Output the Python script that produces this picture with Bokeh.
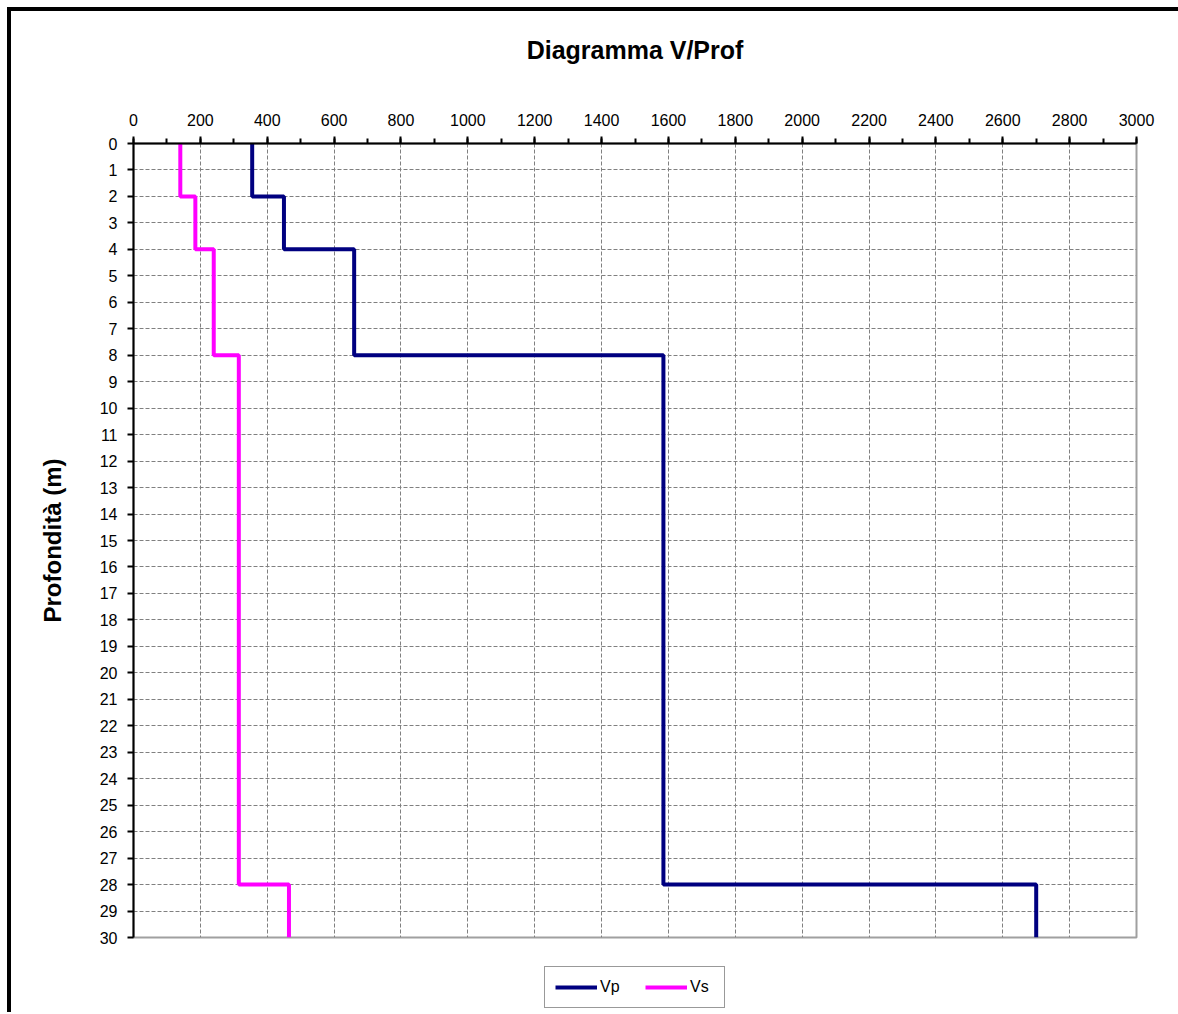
from bokeh.plotting import figure
from bokeh.layouts import column
from bokeh.models import Range1d, SingleIntervalTicker, Legend, LegendItem
from bokeh.embed import file_html
from bokeh.resources import INLINE

# Layer data (depth in m, velocities in m/s)
depth_top = [0, 2, 4, 8, 28]
depth_bottom = [2, 4, 8, 28, 30]
vp = [355, 450, 660, 1585, 2700]
vs = [140, 185, 240, 315, 465]

series_names = ["Vp", "Vs"]
series_colors = ["#000080", "#FF00FF"]
x_ticks_interval = 200
title_text = "Diagramma V/Prof"
y_label = "Profondità (m)"


def step_path(values):
    xs, ys = [], []
    for v, t, b in zip(values, depth_top, depth_bottom):
        xs += [v, v]
        ys += [t, b]
    return xs, ys


FONT = "Liberation Sans"
W = 1167

p = figure(
    frame_width=1003, frame_height=794,
    min_border_left=122, min_border_right=W - 122 - 1003,
    min_border_top=132, min_border_bottom=12,
    x_range=Range1d(0, 3000), y_range=Range1d(30, 0),
    x_axis_location="above",
    output_backend="svg", toolbar_location=None,
)

xa = p.xaxis[0]
xa.ticker = SingleIntervalTicker(interval=x_ticks_interval, num_minor_ticks=2)
ya = p.yaxis[0]
ya.ticker = SingleIntervalTicker(interval=1, num_minor_ticks=0)

for ax in (xa, ya):
    ax.axis_line_color = "black"
    ax.axis_line_width = 2
    ax.major_tick_line_color = "black"
    ax.major_tick_line_width = 2
    ax.major_tick_in = 0
    ax.major_tick_out = 7
    ax.minor_tick_line_color = "black"
    ax.minor_tick_line_width = 2
    ax.minor_tick_in = 0
    ax.minor_tick_out = 5
    ax.major_label_text_font = FONT
    ax.major_label_text_font_size = "16px"
    ax.major_label_text_color = "black"
    ax.major_label_standoff = 11

# chart title drawn as the (top) x axis label, centred over the plot area
xa.axis_label = title_text
xa.axis_label_text_font = FONT
xa.axis_label_text_font_size = "25px"
xa.axis_label_text_font_style = "bold"
xa.axis_label_text_color = "black"
xa.axis_label_standoff = 47

ya.major_tick_out = 6
ya.major_label_standoff = 10
ya.axis_label = y_label
ya.axis_label_text_font = FONT
ya.axis_label_text_font_size = "24px"
ya.axis_label_text_font_style = "bold"
ya.axis_label_text_color = "black"
ya.axis_label_standoff = 31

for g in (p.xgrid[0], p.ygrid[0]):
    g.grid_line_color = "#808080"
    g.grid_line_dash = "4 2"
    g.grid_line_width = 1

p.outline_line_color = "#a0a0a0"
p.outline_line_width = 2
p.background_fill_color = "white"
p.border_fill_color = "white"

vx, vy = step_path(vp)
sx, sy = step_path(vs)
p.line(vx, vy, line_color=series_colors[0], line_width=4)
p.line(sx, sy, line_color=series_colors[1], line_width=4)

# legend strip under the chart (its lines lie outside its tiny 0..1 view)
leg = figure(
    width=W, height=63, min_border=0,
    x_range=Range1d(0, 1), y_range=Range1d(0, 1),
    x_axis_type=None, y_axis_type=None,
    output_backend="svg", toolbar_location=None,
)
leg.outline_line_color = None
leg.background_fill_color = "white"
leg.border_fill_color = "white"
leg_renderers = [
    leg.line(vx, vy, line_color=series_colors[0], line_width=4),
    leg.line(sx, sy, line_color=series_colors[1], line_width=4),
]

legend = Legend(
    items=[LegendItem(label=n, renderers=[r]) for n, r in zip(series_names, leg_renderers)],
    orientation="horizontal",
    location=(411, 4),
    border_line_color="#333333",
    border_line_width=1,
    background_fill_color="white",
    background_fill_alpha=1,
    glyph_width=42, glyph_height=20,
    label_standoff=3, label_width=24,
    spacing=21, padding=10, margin=0,
    label_text_font=FONT, label_text_font_size="16px",
    label_text_color="black",
)
leg.add_layout(legend, "center")

layout = column(p, leg, spacing=0)
layout.styles = {"border-left": "4px solid black", "border-top": "4px solid black",
                 "margin-left": "7px", "margin-top": "7px"}

open("out.html", "w").write(file_html(layout, INLINE))
